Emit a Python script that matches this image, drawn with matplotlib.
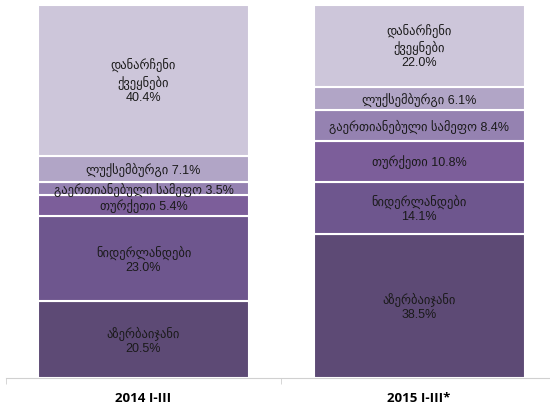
import numpy as np
import matplotlib.pyplot as plt

periods = ['2014 I-III', '2015 I-III*']
countries = ['აზერბაიჯანი', 'ნიდერლანდები', 'თურქეთი',
             'გაერთიანებული სამეფო', 'ლუქსემბურგი', 'დანარჩენი\nქვეყნები']
share_2014 = [20.5, 23.0, 5.4, 3.5, 7.1, 40.4]
share_2015 = [38.5, 14.1, 10.8, 8.4, 6.1, 22.0]
# label on two lines (name / value) or one line
two_line = [[True, True, False, False, False, True],
            [True, True, False, False, False, True]]
colors = ['#5d4a75', '#6e568e', '#7c5e9a', '#9582b1', '#b1a5c6', '#cdc6da']

# Liberation Sans for digits, DejaVu Sans picks up the Georgian glyphs
plt.rcParams['font.family'] = ['Liberation Sans', 'DejaVu Sans']

fig = plt.figure(figsize=(5.5, 4.1), dpi=100)
ax = fig.add_axes([0.0105, 0.0756, 1.0018, 0.9098])

data = np.array([share_2014, share_2015])
x = np.arange(len(periods))
bottom = np.zeros(len(periods))
for i, name in enumerate(countries):
    vals = data[:, i]
    ax.bar(x, vals, width=0.766, bottom=bottom, color=colors[i],
           edgecolor='white', linewidth=1.5)
    for j in range(len(periods)):
        if two_line[j][i]:
            txt = f'{name}\n{vals[j]:.1f}%'
        else:
            txt = f'{name} {vals[j]:.1f}%'
        ax.text(x[j], bottom[j] + vals[j] / 2, txt, ha='center', va='center',
                fontsize=9, color='#1a1a1a', linespacing=1.2)
    bottom += vals

ax.set_xlim(-0.5, 1.5)
ax.set_ylim(0, 99.9)
ax.set_yticks([])
ax.set_xticks(x)
ax.set_xticklabels(periods, fontsize=9.5, fontweight='bold', family='Open Sans')
ax.tick_params(axis='x', which='major', length=0, pad=9)
ax.set_xticks([-0.5, 0.5], minor=True)
ax.tick_params(axis='x', which='minor', length=4, color='#d0d0d0')
for s in ['top', 'right', 'left']:
    ax.spines[s].set_visible(False)
ax.spines['bottom'].set_color('#d0d0d0')

fig.savefig('out.png', dpi=100)
